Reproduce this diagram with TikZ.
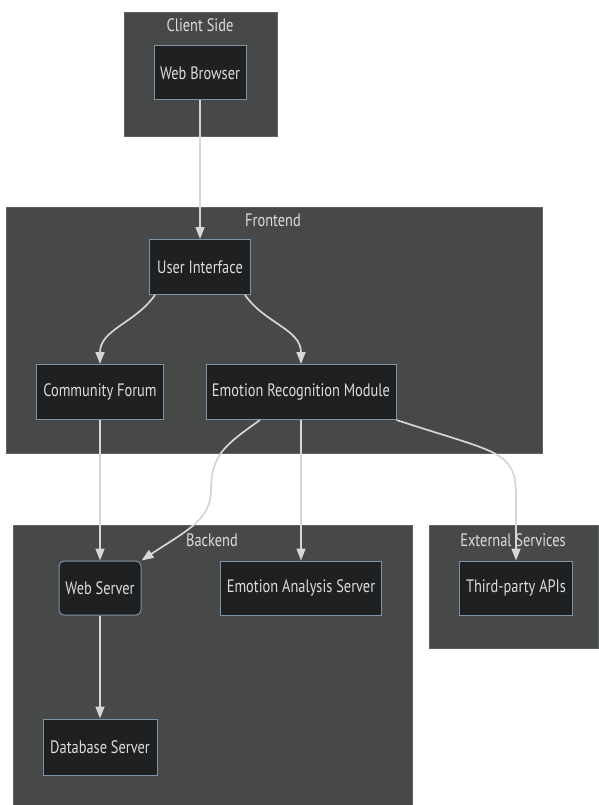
\documentclass[tikz,border=0pt]{standalone}
\usepackage{fontspec}
\setmainfont{PT Sans}[FakeStretch=0.8]
\usetikzlibrary{positioning,arrows.meta}

\definecolor{clusterbg}{HTML}{474949}
\definecolor{clusterline}{HTML}{5E6262}
\definecolor{boxbg}{HTML}{1E2021}
\definecolor{boxline}{HTML}{7D94A8}
\definecolor{txt}{HTML}{DCDCDC}
\definecolor{edge}{HTML}{D6D6D6}

\tikzset{
  cluster/.style={fill=clusterbg, draw=clusterline, line width=0.8pt},
  clustertitle/.style={text=txt, font=\fontsize{18}{20}\selectfont},
  box/.style={draw=boxline, fill=boxbg, text=txt, line width=1pt,
    minimum height=54pt, inner sep=0pt, font=\fontsize{18}{20}\selectfont},
  link/.style={draw=edge, line width=1.7pt, -{Triangle[length=12pt,width=9pt]}}
}

\begin{document}
\begin{tikzpicture}[x=1pt,y=-1pt]
\useasboundingbox[fill=white] (0,0) rectangle (598,805);

% groups
\draw[cluster] (124,12) rectangle (277,136);
\draw[cluster] (6,207) rectangle (542,453);
\draw[cluster] (13,525) rectangle (412,805);
\draw[cluster] (429,525) rectangle (598,648);
\node[clustertitle] (tclient) at (200,25) {Client Side};
\node[clustertitle] (tfront) at (273,220) {Frontend};
\node[clustertitle] (tback) at (212,540) {Backend};
\node[clustertitle] (text) at (513,540) {External Services};

% nodes
\node[box, minimum width=92pt] (wb) at (200,73) {Web Browser};
\node[box, minimum width=101pt, minimum height=55pt] (ui) at (200,267) {User Interface};
\node[box, minimum width=127pt, minimum height=55pt] (cf) at (100,392) {Community Forum};
\node[box, minimum width=190pt, minimum height=55pt] (erm) at (301,392) {Emotion Recognition Module};
\node[box, minimum width=82pt, rounded corners=5pt] (ws) at (100,588) {Web Server};
\node[box, minimum width=161pt] (eas) at (301,588) {Emotion Analysis Server};
\node[box, minimum width=114pt, minimum height=56pt, below=103pt of ws] (db) {Database Server};
\node[box, minimum width=113pt] (tp) at (516,588) {Third-party APIs};

% bends
\coordinate (wsbend) at (211,490);
\coordinate (tpbend) at (516,495);

% links
\draw[link] (wb) -- (ui);
\draw[link] ([xshift=6pt]ui.south west) to[out=-125,in=90] (cf.north);
\draw[link] ([xshift=-6pt]ui.south east) to[out=-55,in=90] (erm.north);
\draw[link] (cf) -- (ws);
\draw[link] (erm) -- (eas);
\draw[link] ([xshift=-41pt]erm.south) .. controls +(-35,25) and +(0,-35) .. (wsbend)
  .. controls +(0,30) and +(45,-30) .. (ws.north east);
\draw[link] (erm.south east) .. controls +(100,33) and +(0,-45) .. (tpbend) -- (tp.north);
\draw[link] (ws) -- (db);
\end{tikzpicture}
\end{document}
